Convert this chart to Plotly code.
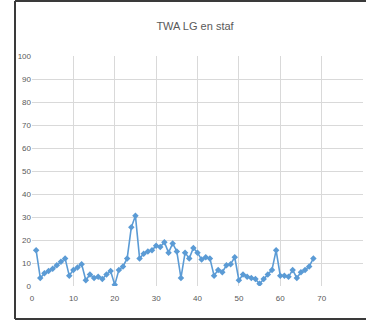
import plotly.graph_objects as go

# values, one per day
days = list(range(1, 69))
twa = [15.5, 3.5, 5.5, 6.5, 7.5, 9, 10.5, 12, 4.5, 7, 8, 9.5,
       2.5, 5, 3.5, 4, 3, 5, 6.5, 0.5, 7, 8.5, 12, 25.5, 30.5,
       12, 14, 15, 15.5, 17.5, 17, 19, 14.5, 18.5, 15, 3.5,
       14.5, 12, 16.5, 14.5, 11.5, 12.5, 12, 4.5, 7, 6, 9, 9.5, 12.5,
       2.5, 5, 4, 3.5, 3, 1, 3, 5, 7, 15.5, 4.5, 4.5, 4, 7, 3.5,
       6, 7, 8.5, 12]
x_ticks = list(range(0, 90, 10))
y_ticks = list(range(0, 110, 10))

W, H = 366, 322
L, R, T, B = 32, 3, 56, 36
pw, ph = W - L - R, H - T - B

def px(x):  # pixel x -> paper x
    return (x - L) / pw

def py(y):  # pixel y -> paper y
    return (H - B - y) / ph

font = "Liberation Sans, Arial, sans-serif"
frame = dict(color="#3a3a3a", width=2)

fig = go.Figure(go.Scatter(
    x=days, y=twa, mode="lines+markers",
    line=dict(color="#5b9bd5", width=1.6),
    marker=dict(symbol="diamond", size=5, color="#5b9bd5"),
))

# dark frame of the screenshot: left, top and bottom edges
edges = [(15, 1, 15, 319), (15, 1, 366, 1), (15, 319, 366, 319)]
fig.update_layout(
    width=W, height=H,
    margin=dict(l=L, r=R, t=T, b=B, autoexpand=False),
    paper_bgcolor="white", plot_bgcolor="white",
    showlegend=False,
    title=dict(text="TWA LG en staf", x=px(195), xref="paper", xanchor="center",
               y=1 - 26 / H, yanchor="middle",
               font=dict(family=font, size=11, color="#595959")),
    shapes=[dict(type="line", xref="paper", yref="paper",
                 x0=px(a), y0=py(b), x1=px(c), y1=py(d), line=frame, layer="above")
            for a, b, c, d in edges],
)
fig.update_xaxes(range=[0, 80], tickvals=x_ticks, showgrid=True, gridcolor="#d9d9d9",
                 zeroline=False, showline=False, ticks="", automargin=False,
                 ticklabelstandoff=6,
                 tickfont=dict(family=font, size=8, color="#595959"))
fig.update_yaxes(range=[0, 100], tickvals=y_ticks, showgrid=True, gridcolor="#d9d9d9",
                 zeroline=False, showline=False, ticks="", automargin=False,
                 tickfont=dict(family=font, size=8, color="#595959"))

# drop the default page margin and scrollbars so the chart fills the window
fig.write_html("out.html", config={"displayModeBar": False},
               post_script="document.body.style.margin='0';"
                           "document.documentElement.style.overflow='hidden';")
